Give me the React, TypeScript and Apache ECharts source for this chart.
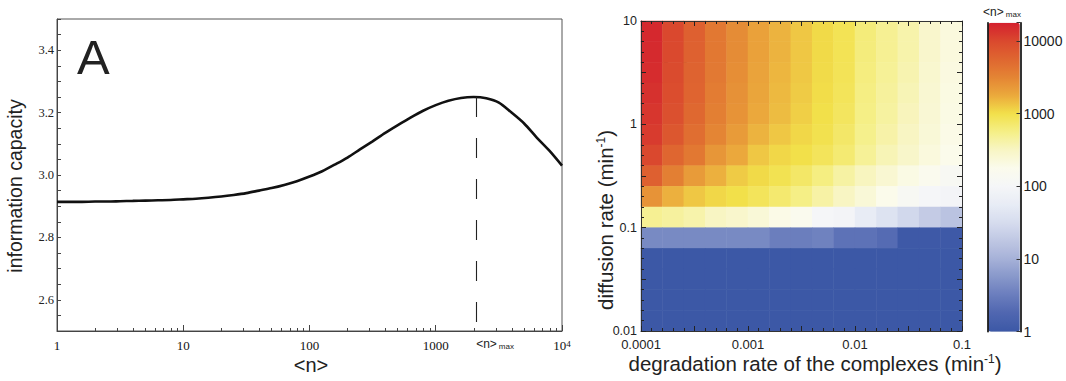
import React, { useEffect, useRef } from 'react';
import * as echarts from 'echarts';

// ---------- Panel A data ----------
const nValues = [
  1, 1.26, 1.58, 2, 2.51, 3.16, 3.98, 5.01, 6.31, 7.94,
  10, 12.6, 15.8, 20, 25.1, 31.6, 39.8, 50.1, 63.1, 79.4,
  100, 126, 158, 200, 251, 316, 398, 501, 631, 794,
  1000, 1259, 1585, 1995, 2512, 3162, 3981, 5012, 6310, 7943, 10000,
];
const capacity = [
  2.914, 2.914, 2.914, 2.915, 2.915, 2.916, 2.917, 2.918, 2.919, 2.92,
  2.922, 2.924, 2.927, 2.931, 2.936, 2.942, 2.95, 2.958, 2.968, 2.98,
  2.995, 3.012, 3.033, 3.056, 3.082, 3.108, 3.135, 3.16, 3.184, 3.206,
  3.224, 3.238, 3.247, 3.25, 3.246, 3.232, 3.2, 3.165, 3.12, 3.078, 3.03,
];
const nMax = 2090;
const peakCapacity = 3.25;
const aXTickLabels = ['1', '10', '100', '1000', '10^4'];
const aYTickLabels = ['2.6', '2.8', '3.0', '3.2', '3.4'];
const aMinorTicks = [2, 3, 4, 5, 6, 7, 8, 9, 20, 30, 40, 50, 60, 70, 80, 90, 200, 300, 400, 500, 600, 700, 800, 900, 2000, 3000, 4000, 5000, 6000, 7000, 8000, 9000];

// ---------- Panel B data ----------
const degradationLabels = ['0.0001', '0.001', '0.01', '0.1'];
const diffusionLabels = ['0.01', '0.1', '1', '10'];
const colorbarLabels = ['1', '10', '100', '1000', '10000'];
// <n>max per cell, rows from top (diffusion ≈ 10) to bottom (diffusion ≈ 0.01), columns from degradation 0.0001 to 0.1
const nMaxGrid = [
  [15800, 10000, 6300, 4000, 2800, 2000, 1600, 1300, 1070, 900, 630, 500, 400, 280, 220],
  [15500, 9800, 6200, 4000, 2800, 2000, 1600, 1300, 1070, 900, 620, 500, 400, 280, 220],
  [15000, 9500, 6000, 3900, 2700, 1950, 1550, 1280, 1050, 880, 600, 480, 380, 270, 210],
  [14000, 9000, 5800, 3700, 2600, 1900, 1500, 1250, 1030, 860, 580, 460, 360, 260, 205],
  [13000, 8500, 5400, 3500, 2500, 1800, 1450, 1200, 1000, 820, 560, 440, 340, 250, 200],
  [12000, 7500, 4800, 3100, 2200, 1600, 1300, 1100, 950, 750, 530, 410, 320, 240, 190],
  [10000, 5600, 4000, 2400, 1800, 1300, 1100, 1000, 850, 680, 480, 360, 290, 220, 180],
  [6300, 3500, 2200, 1650, 1250, 1070, 930, 760, 590, 430, 330, 260, 200, 160, 126],
  [2500, 1650, 1300, 1100, 1000, 850, 700, 560, 420, 320, 240, 180, 126, 100, 90],
  [500, 450, 400, 320, 280, 240, 190, 160, 100, 90, 56, 40, 28, 20, 16],
  [4.2, 4.2, 4.2, 4.2, 4.2, 4.2, 3.2, 3.2, 3.5, 2.4, 2.4, 2.0, 1.05, 1.05, 1.05],
  [1, 1, 1, 1, 1, 1, 1, 1, 1, 1, 1, 1, 1, 1, 1],
  [1, 1, 1, 1, 1, 1, 1, 1, 1, 1, 1, 1, 1, 1, 1],
  [1, 1, 1, 1, 1, 1, 1, 1, 1, 1, 1, 1, 1, 1, 1],
  [1, 1, 1, 1, 1, 1, 1, 1, 1, 1, 1, 1, 1, 1, 1],
];
const colorScale = [
  '#3c58a6', '#4f66b0', '#6a7dbd', '#8797ca', '#a6b1d8', '#bfc7e3', '#d6dcee', '#e8ecf5', '#f5f6f8',
  '#fbfbec', '#f8f5c4', '#f5ef86', '#f2e04a', '#eba93c', '#e48434', '#df6630', '#da482e', '#d4202e',
];
const colorbarMaxLog = 4.25;

const SANS = 'Liberation Sans, Arial, Helvetica, sans-serif';
const SERIF = 'Liberation Serif, Times New Roman, serif';
const INK = '#222';

export default function App() {
  const ref = useRef<HTMLDivElement>(null);

  useEffect(() => {
    if (!ref.current) return;
    const chart = echarts.init(ref.current, null, { renderer: 'svg' });

    const nCols = nMaxGrid[0].length;
    const nRows = nMaxGrid.length;
    const heatData: number[][] = [];
    nMaxGrid.forEach((row, t) => {
      row.forEach((v, c) => {
        heatData.push([c, nRows - 1 - t, Math.log10(v)]);
      });
    });
    const colIdx = Array.from({ length: nCols }, (_, i) => String(i));
    const rowIdx = Array.from({ length: nRows }, (_, i) => String(i));

    const isInt = (v: number) => Math.abs(v - Math.round(v)) < 1e-6;

    const bAxisCommon = {
      type: 'value',
      interval: 0.5,
      z: 5,
      axisLine: { show: true, onZero: false, lineStyle: { color: '#333', width: 1 } },
      axisTick: { show: true, inside: true, length: 5, lineStyle: { color: '#222', width: 1 } },
      minorTick: { show: true, splitNumber: 5, length: 3, lineStyle: { color: '#222', width: 1 } },
      splitLine: { show: false },
      minorSplitLine: { show: false },
    };

    const option: any = {
      animation: false,
      grid: [
        { left: 57, top: 19, width: 505, height: 312, show: true, borderColor: '#555', borderWidth: 1, backgroundColor: 'transparent' },
        { left: 641, top: 21, width: 321, height: 310, show: false },
        { left: 641, top: 21, width: 321, height: 310, show: false },
        { left: 987.5, top: 22.7, width: 33, height: 309, show: false },
      ],
      xAxis: [
        {
          gridIndex: 0, type: 'log', logBase: 10, min: 1, max: 10000, position: 'bottom',
          axisLine: { show: true, onZero: false, lineStyle: { color: '#444', width: 1 } },
          axisTick: { show: true, inside: true, length: 6, lineStyle: { color: '#444' } },
          splitLine: { show: false },
          axisLabel: {
            margin: 8,
            fontFamily: SERIF, fontSize: 13, color: '#111',
            formatter: (v: number) => {
              const k = Math.round(Math.log10(v));
              const s = aXTickLabels[k];
              if (s === '10^4') return '{b|10}{s|4}';
              return s;
            },
            rich: {
              b: { fontFamily: SERIF, fontSize: 13, color: '#111' },
              s: { fontFamily: SERIF, fontSize: 9, color: '#111', verticalAlign: 'top' },
            },
          },
        },
        {
          gridIndex: 0, type: 'log', logBase: 10, min: 1, max: 10000, position: 'bottom', offset: 0,
          axisLine: { show: false, onZero: false },
          axisTick: { show: true, inside: true, length: 3, customValues: aMinorTicks, lineStyle: { color: '#444' } },
          splitLine: { show: false },
          axisLabel: {
            show: true,
            customValues: [nMax],
            margin: 7,
            align: 'left',
            color: INK,
            formatter: () => '{a|<n>}{m|max}',
            rich: {
              a: { fontFamily: SANS, fontSize: 12, color: INK },
              m: { fontFamily: SANS, fontSize: 8, color: INK, verticalAlign: 'bottom', padding: [0, 0, 0, 2] },
            },
          },
        },
        {
          ...bAxisCommon, gridIndex: 1, position: 'bottom', min: -4, max: -1,
          axisLabel: {
            margin: 7, fontFamily: SANS, fontSize: 13, color: INK,
            formatter: (v: number) => (isInt(v) ? degradationLabels[Math.round(v) + 4] : ''),
          },
        },
        { ...bAxisCommon, gridIndex: 1, position: 'top', min: -4, max: -1, axisLabel: { show: false } },
        { gridIndex: 2, type: 'category', data: colIdx, show: false },
        { gridIndex: 3, type: 'value', min: 0, max: 1, show: false },
      ],
      yAxis: [
        {
          gridIndex: 0, type: 'value', min: 2.5, max: 3.5, interval: 0.05,
          axisLine: { show: true, onZero: false, lineStyle: { color: '#444', width: 1 } },
          axisTick: { show: true, inside: true, length: 4, lineStyle: { color: '#444' } },
          splitLine: { show: false },
          axisLabel: {
            margin: 3, fontFamily: SERIF, fontSize: 12.5, color: INK,
            formatter: (v: number) => {
              const r = Math.round(v * 100);
              if (r % 20 !== 0) return '';
              const idx = (r - 260) / 20;
              return aYTickLabels[idx] ?? '';
            },
          },
        },
        {
          ...bAxisCommon, gridIndex: 1, position: 'left', min: -2, max: 1,
          axisLabel: {
            margin: 4, fontFamily: SANS, fontSize: 12.5, color: INK,
            formatter: (v: number) => (isInt(v) ? diffusionLabels[Math.round(v) + 2] : ''),
          },
        },
        { ...bAxisCommon, gridIndex: 1, position: 'right', min: -2, max: 1, axisLabel: { show: false } },
        { gridIndex: 2, type: 'category', data: rowIdx, show: false },
        {
          gridIndex: 3, type: 'value', position: 'left', min: 0, max: colorbarMaxLog, z: 10,
          axisLine: { show: true, onZero: false, lineStyle: { color: '#000', width: 1.6 } },
          axisTick: { show: false }, axisLabel: { show: false }, splitLine: { show: false },
        },
        {
          gridIndex: 3, type: 'value', position: 'right', min: 0, max: colorbarMaxLog, interval: 1, z: 10,
          axisLine: { show: true, onZero: false, lineStyle: { color: '#000', width: 1.6 } },
          axisTick: { show: true, inside: true, length: 4, lineStyle: { color: '#333' } },
          splitLine: { show: false },
          axisLabel: {
            margin: 3, fontFamily: SANS, fontSize: 14, color: INK,
            formatter: (v: number) => (isInt(v) ? colorbarLabels[Math.round(v)] ?? '' : ''),
          },
        },
      ],
      visualMap: [
        {
          type: 'continuous',
          seriesIndex: 1,
          dimension: 2,
          min: 0,
          max: colorbarMaxLog,
          calculable: false,
          hoverLink: false,
          orient: 'vertical',
          left: 988.3,
          top: 22.7,
          itemWidth: 31.5,
          itemHeight: 309,
          padding: 0,
          text: null,
          inRange: { color: colorScale },
        },
      ],
      series: [
        {
          type: 'line',
          xAxisIndex: 0,
          yAxisIndex: 0,
          data: nValues.map((n, i) => [n, capacity[i]]),
          smooth: 0.3,
          symbol: 'none',
          lineStyle: { color: '#111', width: 2.6 },
          silent: true,
          markLine: {
            silent: true,
            symbol: 'none',
            label: { show: false },
            lineStyle: { type: [20, 21], color: '#222', width: 1.1 },
            data: [[{ coord: [nMax, peakCapacity] }, { coord: [nMax, 2.5] }]],
          },
        },
        {
          type: 'heatmap',
          xAxisIndex: 4,
          yAxisIndex: 3,
          data: heatData,
          itemStyle: { borderWidth: 0 },
          emphasis: { disabled: true },
          progressive: 0,
          silent: true,
        },
      ],
      graphic: [
        {
          type: 'text', x: 77, y: 57,
          style: { text: 'A', fontFamily: SANS, fontSize: 49, fill: INK, align: 'left', verticalAlign: 'middle' },
        },
        {
          type: 'text', x: 660, y: 59,
          style: { text: 'B', fontFamily: SANS, fontSize: 45, fill: INK, align: 'left', verticalAlign: 'middle' },
        },
        {
          type: 'text', x: 15, y: 186, rotation: Math.PI / 2,
          style: { text: 'information capacity', fontFamily: SANS, fontSize: 19.5, fill: INK, align: 'center', verticalAlign: 'middle' },
        },
        {
          type: 'text', x: 311, y: 365,
          style: { text: '<n>', fontFamily: SANS, fontSize: 20, fill: INK, align: 'center', verticalAlign: 'middle' },
        },
        {
          type: 'text', x: 605, y: 220, rotation: Math.PI / 2,
          style: {
            text: '{n|diffusion rate (min}{s|-1}{n|)}',
            align: 'center', verticalAlign: 'middle',
            rich: {
              n: { fontFamily: SANS, fontSize: 20.5, fill: INK, color: INK },
              s: { fontFamily: SANS, fontSize: 12, fill: INK, color: INK, verticalAlign: 'top' },
            },
          },
        },
        {
          type: 'text', x: 815, y: 363,
          style: {
            text: '{n|degradation rate of the complexes (min}{s|-1}{n|)}',
            align: 'center', verticalAlign: 'middle',
            rich: {
              n: { fontFamily: SANS, fontSize: 20.5, fill: INK, color: INK },
              s: { fontFamily: SANS, fontSize: 12, fill: INK, color: INK, verticalAlign: 'top' },
            },
          },
        },
        {
          type: 'text', x: 1002, y: 12,
          style: {
            text: '{a|<n>}{m|max}',
            align: 'center', verticalAlign: 'middle',
            rich: {
              a: { fontFamily: SANS, fontSize: 12, fill: INK, color: INK },
              m: { fontFamily: SANS, fontSize: 8, fill: INK, color: INK, verticalAlign: 'bottom', padding: [0, 0, 0, 2] },
            },
          },
        },
      ],
    };

    chart.setOption(option);
    return () => chart.dispose();
  }, []);

  return <div ref={ref} style={{ position: 'absolute', left: 0, top: 0, width: 1066, height: 381 }} />;
}
